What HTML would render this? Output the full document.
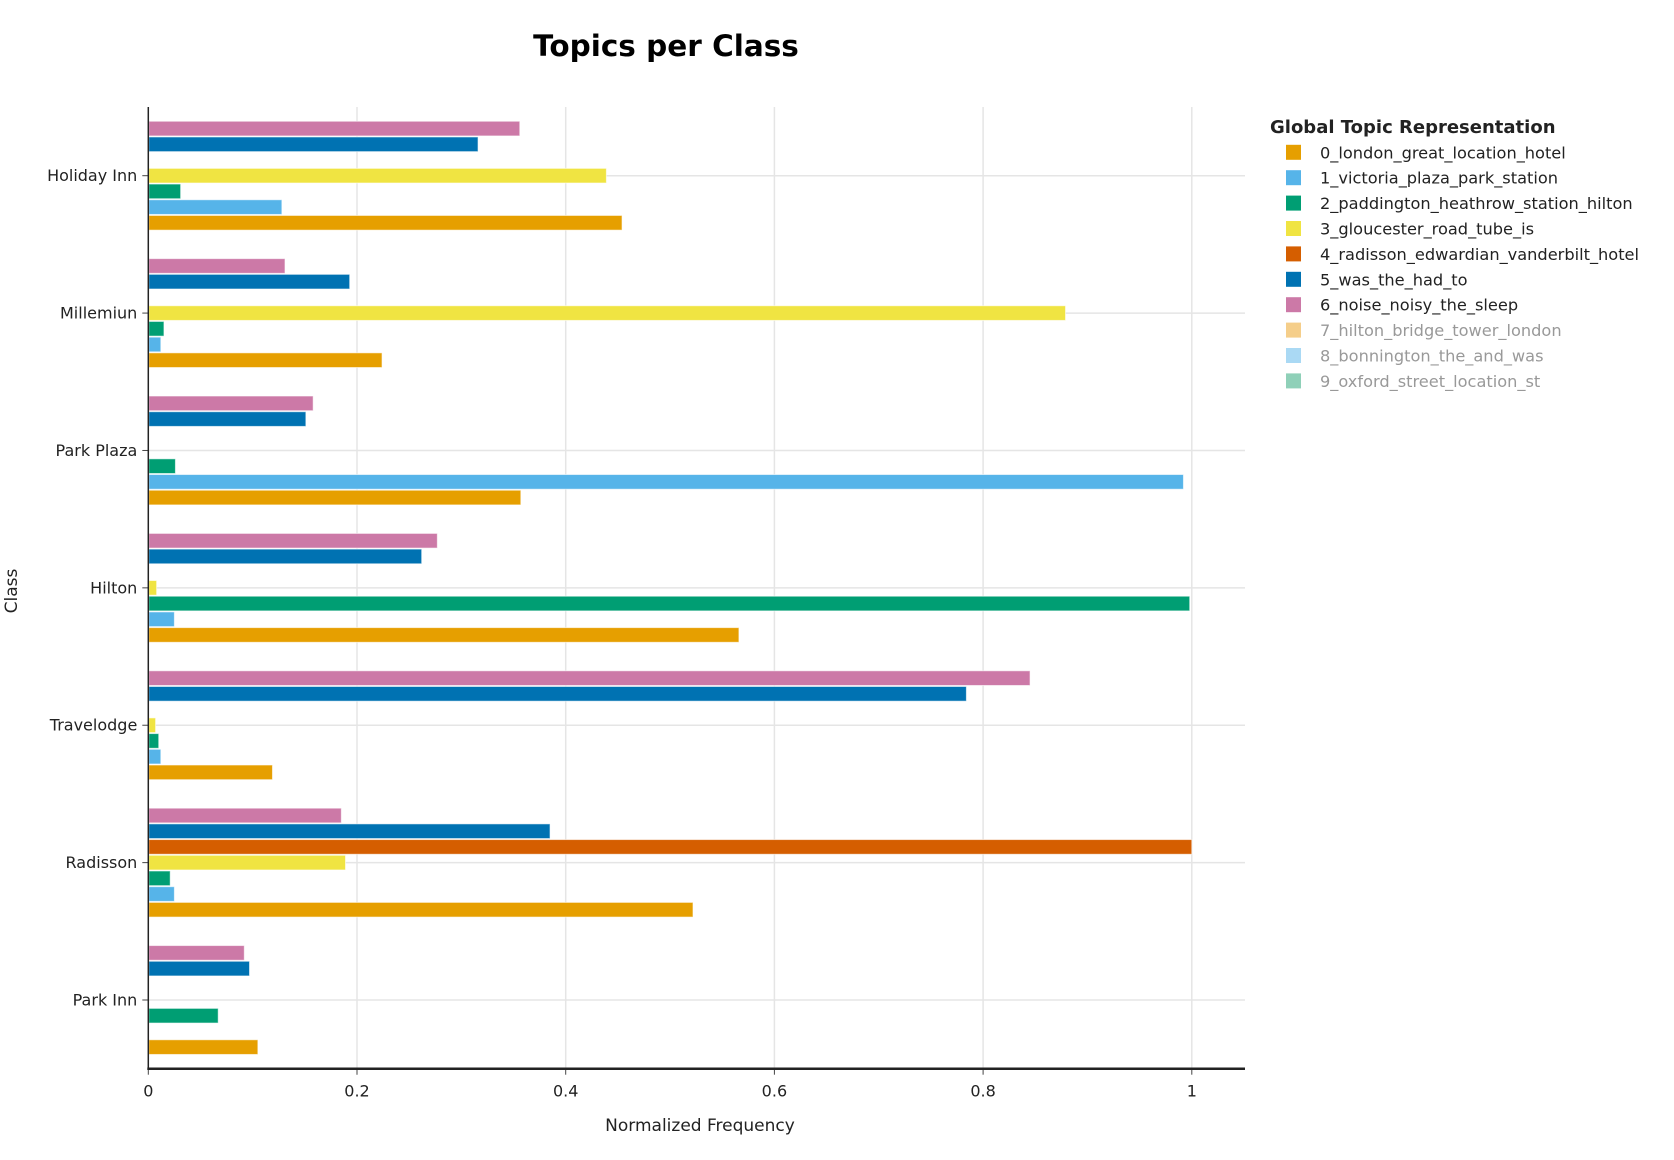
<!DOCTYPE html>
<html><head><meta charset="utf-8"><style>
body{margin:0;background:#fff;}
svg{display:block;font-family:"DejaVu Sans","Liberation Sans",sans-serif;}
</style></head><body>
<svg id="chart" width="1674" height="1160">
<text x="666" y="56" text-anchor="middle" font-size="29.5" font-weight="bold" fill="#000">Topics per Class</text>
<g id="grid"></g><g id="bars"></g><g id="axes"></g><g id="legend"></g>
<text x="700" y="1131" text-anchor="middle" font-size="17" fill="#222">Normalized Frequency</text>
<text transform="translate(17,591) rotate(-90)" text-anchor="middle" font-size="17" fill="#222">Class</text>
</svg>
<script>
const categories = ["Holiday Inn","Millemiun","Park Plaza","Hilton","Travelodge","Radisson","Park Inn"];
const seriesNames = ["0_london_great_location_hotel","1_victoria_plaza_park_station","2_paddington_heathrow_station_hilton","3_gloucester_road_tube_is","4_radisson_edwardian_vanderbilt_hotel","5_was_the_had_to","6_noise_noisy_the_sleep","7_hilton_bridge_tower_london","8_bonnington_the_and_was","9_oxford_street_location_st"];
const seriesColors = ["#E69F00","#56B4E9","#009E73","#F0E442","#D55E00","#0072B2","#CC79A7","#F5CE8A","#AAD9F4","#8FD0B8"];
const s0 = [0.454,0.224,0.357,0.566,0.119,0.522,0.105];
const s1 = [0.128,0.012,0.992,0.025,0.012,0.025,0];
const s2 = [0.031,0.015,0.026,0.998,0.010,0.021,0.067];
const s3 = [0.439,0.879,0,0.008,0.007,0.189,0];
const s4 = [0,0,0,0,0,1.0,0];
const s5 = [0.316,0.193,0.151,0.262,0.784,0.385,0.097];
const s6 = [0.356,0.131,0.158,0.277,0.845,0.185,0.092];
const xTicks = [0,0.2,0.4,0.6,0.8,1];
const xTickLabels = ["0","0.2","0.4","0.6","0.8","1"];

const NS="http://www.w3.org/2000/svg";
const L=148.3,R=1245,T=107,B=1068.7,PX=1043.5;
const band=(B-T)/categories.length;
const x=v=>L+v*PX;
const yc=i=>T+band*(i+0.5);
function mk(tag,attrs,parent){const e=document.createElementNS(NS,tag);for(const k in attrs)e.setAttribute(k,attrs[k]);parent.appendChild(e);return e;}
const grid=document.getElementById('grid'),bars=document.getElementById('bars'),axes=document.getElementById('axes'),leg=document.getElementById('legend');
xTicks.forEach((t,j)=>{
  if(t>0){const g=mk('line',{x1:x(t),x2:x(t),y1:T,y2:B,stroke:'#e5e5e5','stroke-width':1.5},grid);
  
  }
  const tk=mk('line',{x1:x(t),x2:x(t),y1:B,y2:B+6,stroke:'#444','stroke-width':1},axes);
  
  
  const lb=mk('text',{x:x(t),y:B+28,'text-anchor':'middle','font-size':16,fill:'#222'},axes);
  lb.textContent=xTickLabels[j];
  
  
});
categories.forEach((c,i)=>{
  const g=mk('line',{x1:L,x2:R,y1:yc(i),y2:yc(i),stroke:'#e5e5e5','stroke-width':1.5},grid);
  
  
  const tk=mk('line',{x1:L-6,x2:L,y1:yc(i),y2:yc(i),stroke:'#444','stroke-width':1},axes);
  
  
  const lb=mk('text',{x:L-11,y:yc(i)+5.5,'text-anchor':'end','font-size':16,fill:'#222'},axes);
  lb.textContent=c;
  
  
});
const series=[s0,s1,s2,s3,s4,s5,s6];
const slot=band*0.8/series.length;
series.forEach((vals,k)=>{
  vals.forEach((v,i)=>{
    if(v<=0)return;
    const cy=yc(i)-(k-3)*slot;
    const r=mk('rect',{x:x(0)+0.5,y:cy-slot/2+0.5,width:Math.max(0,x(v)-x(0)-0.5),height:slot-1,fill:seriesColors[k],stroke:'rgba(255,255,255,0.6)','stroke-width':1},bars);
    
    
  });
});
const ya=mk('line',{x1:L,x2:L,y1:T,y2:B,stroke:'#222','stroke-width':1.5},axes);


const xa=mk('line',{x1:L-1,x2:R,y1:B,y2:B,stroke:'#222','stroke-width':2.5},axes);


const lt=mk('text',{x:1270,y:133,'font-size':18,'font-weight':'bold',fill:'#222'},leg);
lt.textContent='Global Topic Representation';


seriesNames.forEach((n,k)=>{
  const y=152.3+k*25.4;
  const g=mk('g',{},leg);
  
  
  mk('rect',{x:1286,y:y-7.5,width:15,height:15,fill:seriesColors[k]},g);
  const t=mk('text',{x:1320,y:y+6,'font-size':16.2,fill:k>=7?'#999':'#222'},g);
  t.textContent=n;
});
</script>
</body></html>
